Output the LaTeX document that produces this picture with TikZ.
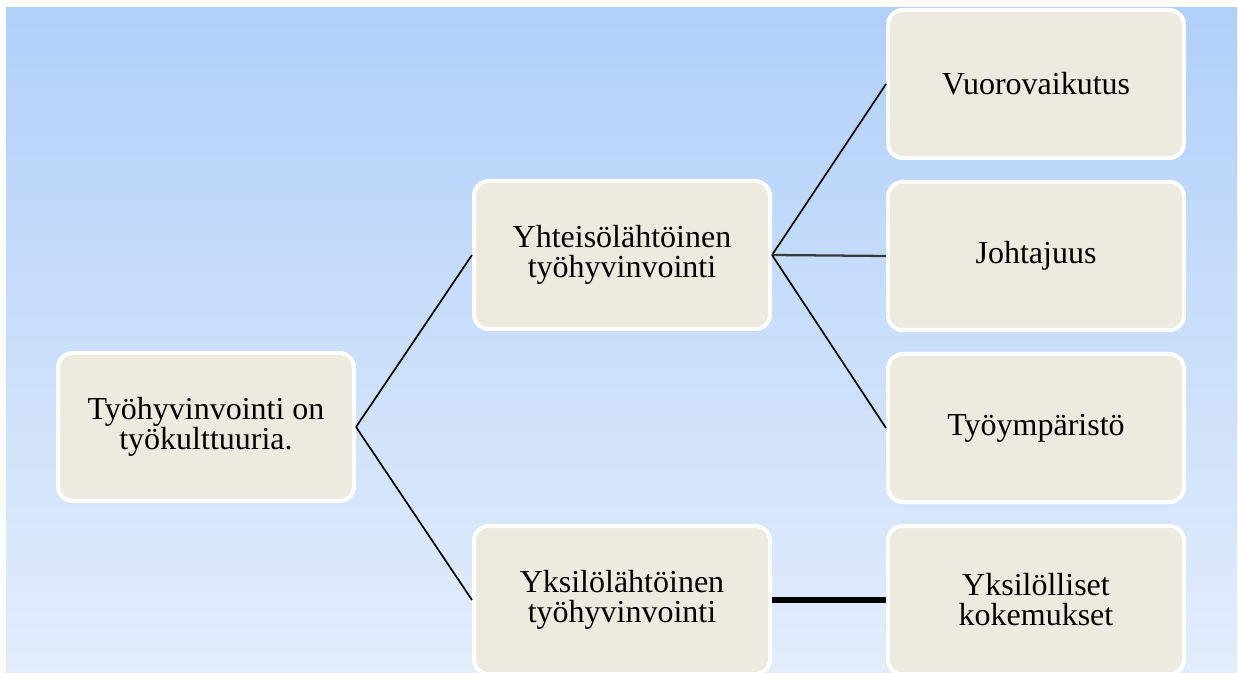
\documentclass[tikz,border=0pt]{standalone}
\usepackage{fontspec}
\setmainfont{Liberation Serif}
\usepackage{tikz}
\usetikzlibrary{positioning}
\definecolor{skytop}{HTML}{B1D0F9}
\definecolor{skybot}{HTML}{E3EDFB}
\definecolor{beige}{HTML}{EDEBE0}
\definecolor{linkgray}{HTML}{3A3A3A}

\tikzset{
  topic/.style={draw=white,line width=3pt,fill=beige,rounded corners=11pt,
    minimum width=222pt,minimum height=111pt,align=center,inner sep=0pt,
    font=\fontsize{24}{22.5}\selectfont},
  link/.style={black,line width=1.25pt},
  biglink/.style={black,line width=3.8pt}
}

\begin{document}
\begin{tikzpicture}[x=0.75pt,y=-0.75pt]
\useasboundingbox (0,0) rectangle (1238,673);
\clip (0,0) rectangle (1238,673);
\shade[top color=skytop,bottom color=skybot] (6,8) rectangle (1237,673);
% left column
\node[topic] (tyokult) at (206,427) {Työhyvinvointi on\\työkulttuuria.};
% middle column
\node[topic] (yhteiso) at (622,255) {Yhteisölähtöinen\\työhyvinvointi};
\node[topic] (yksilo) at (622,600) {Yksilölähtöinen\\työhyvinvointi};
% right column
\node[topic] (vuoro) at (1036,84) {Vuorovaikutus};
\node[topic] (johtaj) at (1036,256) {Johtajuus};
\node[topic] (ymparisto) at (1036,428) {Työympäristö};
\node[topic] (kokemus) at (1036,600) {Yksilölliset\\kokemukset};
% connectors
\draw[link] (tyokult.east) -- (yhteiso.west);
\draw[link] (tyokult.east) -- (yksilo.west);
\draw[link] (yhteiso.east) -- (vuoro.west);
\draw[link,linkgray,line width=1.7pt] (yhteiso.east) -- (johtaj.west);
\draw[link] (yhteiso.east) -- (ymparisto.west);
\draw[biglink] (yksilo.east) -- (kokemus.west);
\end{tikzpicture}
\end{document}
